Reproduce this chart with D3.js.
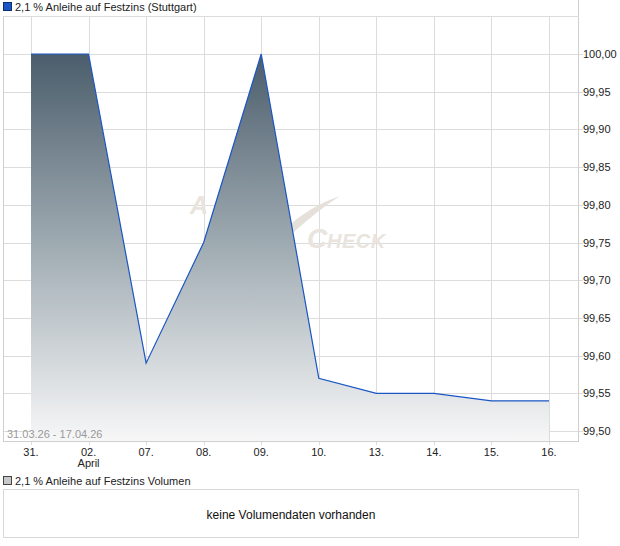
<!DOCTYPE html>
<html><head><meta charset="utf-8">
<script src="https://cdn.jsdelivr.net/npm/d3@7"></script>
<style>body{margin:0;background:#fff;font-family:"Liberation Sans",Arial,sans-serif;}</style>
</head><body>
<svg id="c" width="620" height="546"></svg>
<script>
const categories = ["31.","02.","07.","08.","09.","10.","13.","14.","15.","16."];
const subLabels = ["","April","","","","","","","",""];
const prices = [100.00,100.00,99.59,99.75,100.00,99.57,99.55,99.55,99.54,99.54];
const yTicks = [99.50,99.55,99.60,99.65,99.70,99.75,99.80,99.85,99.90,99.95,100.00];
const title = "2,1 % Anleihe auf Festzins (Stuttgart)";
const volTitle = "2,1 % Anleihe auf Festzins Volumen";
const rangeLabel = "31.03.26 - 17.04.26";
const noVol = "keine Volumendaten vorhanden";

const svg = d3.select("#c");
const P = {l:3, r:578, t:16, b:441};
const x = d3.scalePoint().domain(categories).range([31,549]);
const y = d3.scaleLinear().domain([99.50,100.00]).range([431,54]);
const fmt = v => d3.format(".2f")(v).replace(".",",");

// legend
svg.append("rect").attr("x",3.5).attr("y",2.5).attr("width",8).attr("height",8).attr("fill","#1a56c4").attr("stroke","#0d2f6e");
svg.append("text").attr("x",15).attr("y",11).attr("font-size",11).attr("fill","#222").text(title);

// grid
const g = svg.append("g");
g.selectAll(".hg").data(yTicks).join("line")
 .attr("x1",P.l).attr("x2",P.r+5).attr("y1",d=>Math.round(y(d))+0.5).attr("y2",d=>Math.round(y(d))+0.5)
 .attr("stroke","#dcdcdc");
g.selectAll(".vg").data(categories).join("line")
 .attr("x1",d=>Math.round(x(d))+0.5).attr("x2",d=>Math.round(x(d))+0.5).attr("y1",P.t).attr("y2",P.b+4)
 .attr("stroke","#dcdcdc");

// watermark
const wm = svg.append("g").attr("fill","#e9e4de").attr("font-style","italic").attr("font-weight","bold");
wm.append("text").attr("x",190).attr("y",214).attr("font-size",25).text("A");
wm.append("path").attr("d","M286,228 Q310,206 340,196 Q318,210 294,232 Z").attr("fill","#e6e0da");
wm.append("text").attr("x",307).attr("y",248).attr("font-size",28).text("C");
wm.append("text").attr("x",327).attr("y",248).attr("font-size",20).attr("letter-spacing",0.5).text("HECK");

// gradient
const defs = svg.append("defs");
const lg = defs.append("linearGradient").attr("id","gr").attr("gradientUnits","userSpaceOnUse")
 .attr("x1",0).attr("x2",0).attr("y1",y(100.00)).attr("y2",P.b);
lg.append("stop").attr("offset","0%").attr("stop-color","#4b5d6c");
lg.append("stop").attr("offset","55%").attr("stop-color","#a9b4ba");
lg.append("stop").attr("offset","100%").attr("stop-color","#f7f7f8");

const data = categories.map((c,i)=>({c,v:prices[i]}));
svg.append("path").datum(data)
 .attr("d",d3.area().x(d=>x(d.c)).y0(P.b).y1(d=>y(d.v)))
 .attr("fill","url(#gr)");
svg.append("path").datum(data)
 .attr("d",d3.line().x(d=>x(d.c)).y(d=>y(d.v)))
 .attr("fill","none").attr("stroke","#1a56c4").attr("stroke-width",1.2);

// borders
svg.append("line").attr("x1",P.l+0.5).attr("x2",P.l+0.5).attr("y1",P.t).attr("y2",P.b+0.5).attr("stroke","#cfcfcf");
svg.append("line").attr("x1",P.r+0.5).attr("x2",P.r+0.5).attr("y1",0).attr("y2",P.b+0.5).attr("stroke","#cfcfcf");
svg.append("line").attr("x1",P.l).attr("x2",P.r+1).attr("y1",P.t+0.5).attr("y2",P.t+0.5).attr("stroke","#dcdcdc");
svg.append("line").attr("x1",P.l).attr("x2",P.r+1).attr("y1",P.b+0.5).attr("y2",P.b+0.5).attr("stroke","#cfcfcf");

// y labels
svg.selectAll(".yl").data(yTicks).join("text")
 .attr("x",583).attr("y",d=>y(d)+4).attr("font-size",11).attr("fill","#222").text(fmt);

// range label
svg.append("text").attr("x",7).attr("y",438).attr("font-size",11).attr("fill","#999").text(rangeLabel);

// x labels
svg.selectAll(".xl").data(categories).join("text")
 .attr("x",d=>x(d)).attr("y",456).attr("text-anchor","middle").attr("font-size",11).attr("fill","#222").text(d=>d);
svg.selectAll(".xs").data(categories.filter((d,i)=>subLabels[i])).join("text")
 .attr("x",d=>x(d)).attr("y",467).attr("text-anchor","middle").attr("font-size",11).attr("fill","#222")
 .text(d=>subLabels[categories.indexOf(d)]);

// volume legend
svg.append("rect").attr("x",3.5).attr("y",476.5).attr("width",8).attr("height",8).attr("fill","#c8c8c8").attr("stroke","#444");
svg.append("text").attr("x",15).attr("y",485).attr("font-size",11).attr("fill","#222").text(volTitle);
svg.append("rect").attr("x",3.5).attr("y",489.5).attr("width",575).attr("height",48).attr("fill","#fff").attr("stroke","#d8d8d8");
svg.append("text").attr("x",291).attr("y",519).attr("text-anchor","middle").attr("font-size",12).attr("fill","#111").text(noVol);
</script>
</body></html>
